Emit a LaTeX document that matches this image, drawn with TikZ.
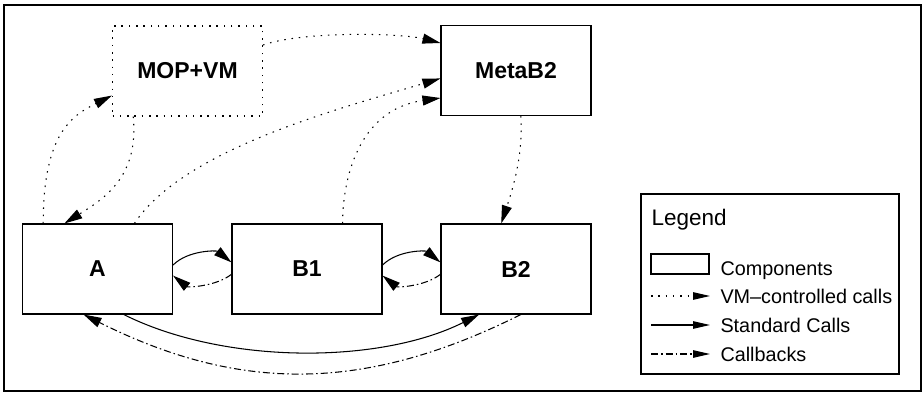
\documentclass[tikz,border=0pt]{standalone}
\usepackage{fontspec}
\setmainfont{Liberation Sans}
\usetikzlibrary{arrows.meta}

\tikzset{
  comp/.style={draw, line width=1.1pt, minimum width=150pt, minimum height=90pt, inner sep=0pt,
    font=\bfseries\fontsize{23}{27}\selectfont},
  vmcall/.style={dash pattern=on 1.5pt off 5.8pt},
  callback/.style={dash pattern=on 7pt off 3pt on 1.5pt off 3pt},
  calltip/.style={-{Triangle[length=18pt,width=10pt]}},
  keytip/.style={-{Triangle[length=17pt,width=7.5pt]}},
  legtext/.style={anchor=base west, inner sep=0pt, font=\fontsize{19.8}{24}\selectfont}
}

\begin{document}
\begin{tikzpicture}[x=1pt,y=1pt,yscale=-1,line width=1.05pt]
		\useasboundingbox (0,0) rectangle (924,393);

		% Outer frame
		\draw[line width=2.2pt] (4,5) rectangle (921,391);

		% The components (MOP+VM drawn dotted)
		\node[comp, vmcall] (mopvm) at (187.5,71) {MOP+VM};
		\node[comp] (metab2) at (516,70.5) {MetaB2};
		\node[comp] (a) at (97.5,269) {A};
		\node[comp] (b1) at (307,269) {B1};
		\node[comp] (b2) at (516,269) {B2};

		% VM-controlled calls (dotted)
		\draw[vmcall, calltip] (mopvm.19) .. controls +(40,-14) and +(-40,-10) .. (metab2.160);
		\draw[vmcall, calltip] (a.140) .. controls +(0,-90) and +(-40,20) .. (mopvm.198);
		\draw[vmcall, calltip] (mopvm.220) .. controls +(6,60) and +(40,-25) .. (a.126);
		\draw[vmcall, calltip] (a.51) .. controls +(50,-75) and +(-100,30) .. (metab2.186);
		\draw[vmcall, calltip] (b1.52) .. controls +(0,-41) and +(-84,12) .. (metab2.200);
		\draw[vmcall, calltip] (metab2.276) .. controls +(3,40) and +(10,-30) .. (b2.108);

		% Standard calls (solid) and callbacks (dash-dot) between neighbours
		\draw[calltip] (a.3) .. controls +(15,-15) and +(-15,-12) .. (b1.175);
		\draw[callback, calltip] (b1.184) .. controls +(-15,12) and +(15,12) .. (a.355);
		\draw[calltip] (b1.3) .. controls +(15,-15) and +(-15,-12) .. (b2.175);
		\draw[callback, calltip] (b2.184) .. controls +(-15,12) and +(15,12) .. (b1.355);

		% Long call from A to B2 and the callback back
		\draw[calltip] (a.300) .. controls +(100,50) and +(-100,50) .. (b2.231);
		\draw[callback, calltip] (b2.276) .. controls +(-156,78) and +(156,78) .. (a.253);

		% Legend box and title
		\node[draw, line width=1.1pt, minimum width=258pt, minimum height=180pt, inner sep=0pt] (legend) at (770,284) {};
		\node[anchor=base west, inner sep=0pt, font=\fontsize{22.5}{27}\selectfont] (legendtitle) at (651,225) {Legend};

		% Legend entries
		\node[draw, line width=1.1pt, minimum width=58pt, minimum height=20pt, inner sep=0pt] (compkey) at (680,264) {};
		\node[legtext] (comptext) at (720,275) {Components};

		\coordinate (vmkeya) at (651,296);
		\coordinate (vmkeyb) at (710,296);
		\draw[vmcall, keytip] (vmkeya) -- (vmkeyb);
		\node[legtext] (vmtext) at (720,303.5) {VM–controlled calls};

		\coordinate (stdkeya) at (651,325);
		\coordinate (stdkeyb) at (710,325);
		\draw[keytip] (stdkeya) -- (stdkeyb);
		\node[legtext] (stdtext) at (720,332) {Standard Calls};

		\coordinate (cbkeya) at (651,354);
		\coordinate (cbkeyb) at (710,354);
		\draw[callback, keytip] (cbkeya) -- (cbkeyb);
		\node[legtext] (cbtext) at (720,361) {Callbacks};
	\end{tikzpicture}
\end{document}
